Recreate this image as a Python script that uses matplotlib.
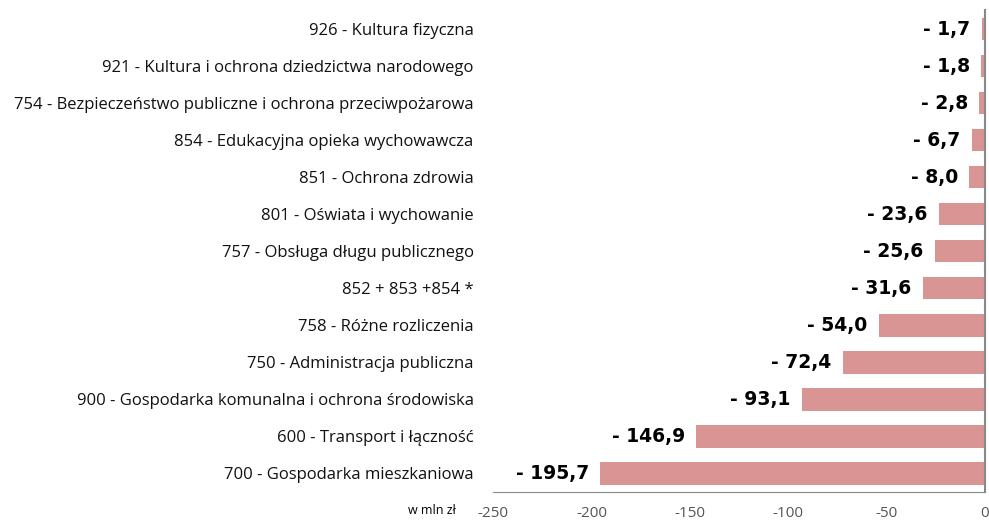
import matplotlib.pyplot as plt

categories = [
    "926 - Kultura fizyczna",
    "921 - Kultura i ochrona dziedzictwa narodowego",
    "754 - Bezpieczeństwo publiczne i ochrona przeciwpożarowa",
    "854 - Edukacyjna opieka wychowawcza",
    "851 - Ochrona zdrowia",
    "801 - Oświata i wychowanie",
    "757 - Obsługa długu publicznego",
    "852 + 853 +854 *",
    "758 - Różne rozliczenia",
    "750 - Administracja publiczna",
    "900 - Gospodarka komunalna i ochrona środowiska",
    "600 - Transport i łączność",
    "700 - Gospodarka mieszkaniowa",
]
values = [-1.7, -1.8, -2.8, -6.7, -8.0, -23.6, -25.6, -31.6, -54.0, -72.4, -93.1, -146.9, -195.7]
xticks = [-250, -200, -150, -100, -50, 0]

fig = plt.figure(figsize=(9.89, 5.2), dpi=100)
ax = fig.add_axes([493 / 989, 28 / 520, 492 / 989, 482 / 520])

ypos = list(range(len(categories)))
ax.barh(ypos, values, height=0.6, color="#D99594")
ax.set_ylim(len(categories) - 0.5 + 0.0, -0.52)
ax.set_xlim(-250, 0)

ax.set_yticks(ypos)
ax.set_yticklabels(categories, family="Open Sans", fontsize=12, color="#111111")
ax.tick_params(axis="y", length=0, pad=14)
ax.set_xticks(xticks)
ax.set_xticklabels([str(t) for t in xticks], family="Open Sans", fontsize=11, color="#555555")
ax.tick_params(axis="x", length=0, pad=10)

for s in ["top", "left"]:
    ax.spines[s].set_visible(False)
ax.spines["bottom"].set_color("#888888")
ax.spines["right"].set_color("#888888")
ax.spines["right"].set_linewidth(1.5)

for y, v in zip(ypos, values):
    txt = "- " + f"{abs(v):.1f}".replace(".", ",")
    ax.annotate(txt, xy=(v, y), xytext=(-8, 0), textcoords="offset points",
                ha="right", va="center", fontsize=13.5, fontweight="bold",
                family="DejaVu Sans")

fig.text(432 / 989, 1 - 510 / 520, "w mln zł", ha="center", va="center",
         fontsize=9, family="Open Sans")

fig.savefig("out.png", dpi=100)
